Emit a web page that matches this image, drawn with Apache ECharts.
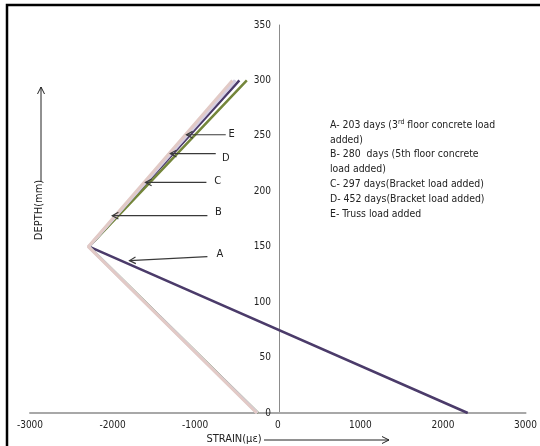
<!DOCTYPE html>
<html>
<head>
<meta charset="utf-8">
<script src="https://cdn.jsdelivr.net/npm/echarts@6/dist/echarts.min.js"></script>
<style>
  html, body { margin: 0; padding: 0; background: #fff; }
  #chart { width: 540px; height: 446px; }
</style>
</head>
<body>
<div id="chart"></div>
<script>
// Strain profiles across the section depth (με vs mm)
const depth = [0, 150, 300];
const strainA = [2300, -2285, -465];
const strainB = [-245, -2290, -510];
const strainC = [-240, -2285, -375];
const strainD = [-250, -2290, -520];
const strainE = [-255, -2295, -550];

const xTicks = { min: -3000, max: 3000, step: 1000 };
const yTicks = { min: 0, max: 350, step: 50 };

// Callout arrows: label, tail point, head point, label point (strain, depth)
const noteLabels = ['A', 'B', 'C', 'D', 'E'];
const noteTail = [[-852, 141], [-852, 178], [-864, 208], [-751, 234], [-630, 251]];
const noteHead = [[-1795, 137.5], [-2004, 178], [-1602, 208], [-1301, 234], [-1105, 251]];
const noteText = [[-700, 143], [-719, 181], [-726, 209.5], [-630, 229.5], [-558, 251.6]];

const legendLines = [
  '{t|A- 203 days (3}{s|rd}{t| floor concrete load}',
  '{t|added)}',
  '{t|B- 280  days (5th floor concrete}',
  '{t|load added)}',
  '{t|C- 297 days(Bracket load added)}',
  '{t|D- 452 days(Bracket load added)}',
  '{t|E- Truss load added}'
];

const FONT = '"Liberation Sans Narrow", "DejaVu Sans Condensed", "Liberation Sans", sans-serif';

function pairs(xs) { return xs.map((x, i) => [x, depth[i]]); }

const seriesDefs = [
  { name: 'A', data: strainA, color: '#4b3b6a', width: 2.5 },
  { name: 'C', data: strainC, color: '#74863b', width: 2.5 },
  { name: 'B', data: strainB, color: '#cdc6de', width: 3 },
  { name: 'D', data: strainD, color: '#d6cfe2', width: 3 },
  { name: 'E', data: strainE, color: '#e2cac6', width: 3 }
];

const GRID_LEFT = 30, GRID_RIGHT = 12, WIDTH = 540;
const plotW = WIDTH - GRID_LEFT - GRID_RIGHT;
// shift the value axis to sit on strain = 0
const yAxisShift = -plotW * (0 - xTicks.min) / (xTicks.max - xTicks.min);

const chart = echarts.init(document.getElementById('chart'), null, { renderer: 'canvas' });

chart.setOption({
  animation: false,
  backgroundColor: '#fff',
  grid: { left: GRID_LEFT, right: GRID_RIGHT, top: 25, bottom: 33, containLabel: false },
  xAxis: {
    type: 'value',
    min: xTicks.min, max: xTicks.max, interval: xTicks.step,
    axisLine: { onZero: false, lineStyle: { color: '#a8a8a8', width: 2 } },
    axisTick: { show: false },
    splitLine: { show: false },
    axisLabel: { color: '#222', fontSize: 10, fontFamily: FONT, margin: 7, formatter: v => String(v) }
  },
  yAxis: {
    type: 'value',
    position: 'left',
    offset: yAxisShift,
    min: yTicks.min, max: yTicks.max, interval: yTicks.step,
    axisLine: { show: true, onZero: false, lineStyle: { color: '#8c8c8c', width: 1 } },
    axisTick: { show: false },
    splitLine: { show: false },
    axisLabel: { color: '#222', fontSize: 10, fontFamily: FONT, margin: 8, formatter: v => String(v) }
  },
  series: seriesDefs.map(s => ({
    name: s.name,
    type: 'line',
    data: pairs(s.data),
    symbol: 'none',
    lineStyle: { color: s.color, width: s.width },
    z: 3
  }))
});

// Annotations placed from data coordinates
const px = p => chart.convertToPixel({ gridIndex: 0 }, p);
const graphics = [];

// outer frame
graphics.push({
  type: 'polyline',
  shape: { points: [[7, 446], [7, 5], [540, 5]] },
  style: { stroke: '#000', lineWidth: 2.5, fill: null }
});

noteLabels.forEach((lab, i) => {
  const t = px(noteTail[i]);
  const h = px(noteHead[i]);
  const l = px(noteText[i]);
  const ang = Math.atan2(t[1] - h[1], t[0] - h[0]);
  const a1 = ang + 0.5, a2 = ang - 0.5, len = 7;
  graphics.push({
    type: 'line',
    shape: { x1: t[0], y1: t[1], x2: h[0], y2: h[1] },
    style: { stroke: '#3a3a3a', lineWidth: 1.2 },
    z: 10
  });
  graphics.push({
    type: 'polyline',
    shape: { points: [
      [h[0] + len * Math.cos(a1), h[1] + len * Math.sin(a1)],
      [h[0], h[1]],
      [h[0] + len * Math.cos(a2), h[1] + len * Math.sin(a2)]
    ] },
    style: { stroke: '#3a3a3a', lineWidth: 1.2, fill: null },
    z: 10
  });
  graphics.push({
    type: 'text',
    x: l[0], y: l[1],
    style: { text: lab, fill: '#222', font: '11px ' + FONT, textAlign: 'center', textVerticalAlign: 'middle' },
    z: 10
  });
});

// legend block
legendLines.forEach((txt, i) => {
  graphics.push({
    type: 'text',
    x: 330, y: 125 + i * 14.8,
    style: {
      text: txt,
      textVerticalAlign: 'middle',
      rich: {
        t: { fontSize: 10.4, fontFamily: FONT, fill: '#222' },
        s: { fontSize: 7, fontFamily: FONT, fill: '#222', verticalAlign: 'top', padding: [0, 0, 5, 0] }
      }
    },
    z: 10
  });
});

// axis titles with direction arrows
graphics.push({
  type: 'text', x: 234, y: 439,
  style: { text: 'STRAIN(με)', fill: '#222', font: '11px ' + FONT, textAlign: 'center', textVerticalAlign: 'middle' }
});
graphics.push({
  type: 'line', shape: { x1: 264, y1: 440, x2: 389, y2: 440 },
  style: { stroke: '#222', lineWidth: 1 }
});
graphics.push({
  type: 'polyline', shape: { points: [[382, 436.5], [389, 440], [382, 443.5]] },
  style: { stroke: '#222', lineWidth: 1, fill: null }
});
graphics.push({
  type: 'text', x: 39, y: 210, rotation: Math.PI / 2,
  style: { text: 'DEPTH(mm)', fill: '#222', font: '11px ' + FONT, textAlign: 'center', textVerticalAlign: 'middle' }
});
graphics.push({
  type: 'line', shape: { x1: 41, y1: 181, x2: 41, y2: 87 },
  style: { stroke: '#222', lineWidth: 1 }
});
graphics.push({
  type: 'polyline', shape: { points: [[37.5, 94], [41, 87], [44.5, 94]] },
  style: { stroke: '#222', lineWidth: 1, fill: null }
});

chart.setOption({ graphic: { elements: graphics } });
</script>
</body>
</html>
